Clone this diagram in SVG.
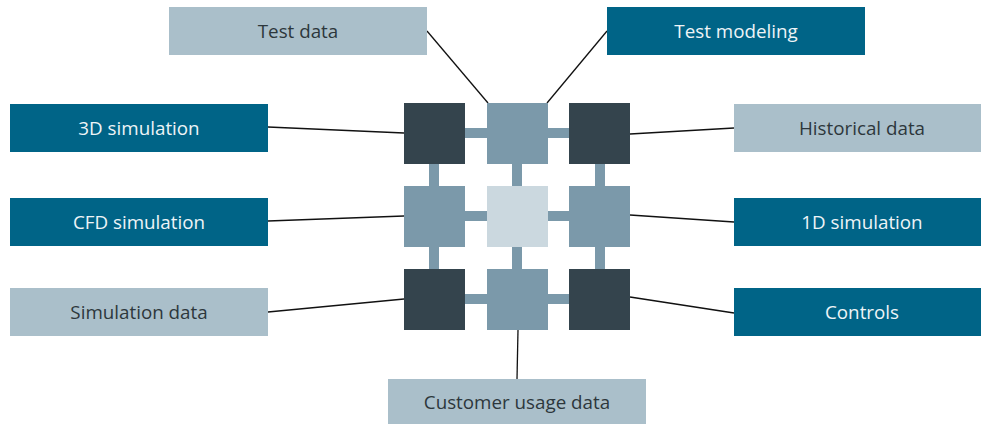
<svg xmlns="http://www.w3.org/2000/svg" width="981" height="425" viewBox="0 0 981 425">
<style>
.dk{fill:#006487}
.lt{fill:#aabfca}
.tdk{fill:#eef4f7;font-family:"Open Sans","Noto Sans",sans-serif;font-size:18.8px;text-anchor:middle}
.tlt{fill:#2d373c;font-family:"Open Sans","Noto Sans",sans-serif;font-size:18.8px;text-anchor:middle}
.sq1{fill:#34444d}
.sq2{fill:#7b99aa}
.sq3{fill:#cbd8df}
.bar{fill:#7b99aa}
.ln{stroke:#111;stroke-width:1.3;fill:none}
</style>
<rect width="981" height="425" fill="#fff"/>
<g id="connectors">
<line class="ln" x1="427" y1="31" x2="488" y2="103"/>
<line class="ln" x1="607" y1="31" x2="547" y2="103"/>
<line class="ln" x1="268" y1="127" x2="404" y2="133"/>
<line class="ln" x1="630" y1="134" x2="734" y2="128"/>
<line class="ln" x1="268" y1="221" x2="404" y2="216"/>
<line class="ln" x1="630" y1="215" x2="734" y2="222"/>
<line class="ln" x1="268" y1="312" x2="404" y2="299"/>
<line class="ln" x1="630" y1="297" x2="734" y2="313"/>
<line class="ln" x1="518" y1="330" x2="517" y2="379"/>
</g>
<g id="grid">
<rect class="bar" x="465" y="128" width="22" height="10"/>
<rect class="bar" x="548" y="128" width="21" height="10"/>
<rect class="bar" x="465" y="211" width="22" height="10"/>
<rect class="bar" x="548" y="211" width="21" height="10"/>
<rect class="bar" x="465" y="294" width="22" height="10"/>
<rect class="bar" x="548" y="294" width="21" height="10"/>
<rect class="bar" x="429" y="164" width="10" height="22"/>
<rect class="bar" x="512" y="164" width="10" height="22"/>
<rect class="bar" x="595" y="164" width="10" height="22"/>
<rect class="bar" x="429" y="247" width="10" height="22"/>
<rect class="bar" x="512" y="247" width="10" height="22"/>
<rect class="bar" x="595" y="247" width="10" height="22"/>
<rect class="sq1" x="404" y="103" width="61" height="61"/>
<rect class="sq2" x="487" y="103" width="61" height="61"/>
<rect class="sq1" x="569" y="103" width="61" height="61"/>
<rect class="sq2" x="404" y="186" width="61" height="61"/>
<rect class="sq3" x="487" y="186" width="61" height="61"/>
<rect class="sq2" x="569" y="186" width="61" height="61"/>
<rect class="sq1" x="404" y="269" width="61" height="61"/>
<rect class="sq2" x="487" y="269" width="61" height="61"/>
<rect class="sq1" x="569" y="269" width="61" height="61"/>
</g>
<g id="test-data"><rect class="lt" x="169" y="7" width="258" height="48"/><text class="tlt" x="298" y="38">Test data</text></g>
<g id="test-modeling"><rect class="dk" x="607" y="7" width="258" height="48"/><text class="tdk" x="736" y="38">Test modeling</text></g>
<g id="sim-3d"><rect class="dk" x="10" y="104" width="258" height="48"/><text class="tdk" x="139" y="135">3D simulation</text></g>
<g id="historical-data"><rect class="lt" x="734" y="104" width="247" height="48"/><text class="tlt" x="862" y="135">Historical data</text></g>
<g id="cfd-simulation"><rect class="dk" x="10" y="198" width="258" height="48"/><text class="tdk" x="139" y="229">CFD simulation</text></g>
<g id="sim-1d"><rect class="dk" x="734" y="198" width="247" height="48"/><text class="tdk" x="862" y="229">1D simulation</text></g>
<g id="simulation-data"><rect class="lt" x="10" y="288" width="258" height="48"/><text class="tlt" x="139" y="319">Simulation data</text></g>
<g id="controls"><rect class="dk" x="734" y="288" width="247" height="48"/><text class="tdk" x="862" y="319">Controls</text></g>
<g id="customer-usage-data"><rect class="lt" x="388" y="379" width="258" height="45"/><text class="tlt" x="517" y="409">Customer usage data</text></g>
</svg>
